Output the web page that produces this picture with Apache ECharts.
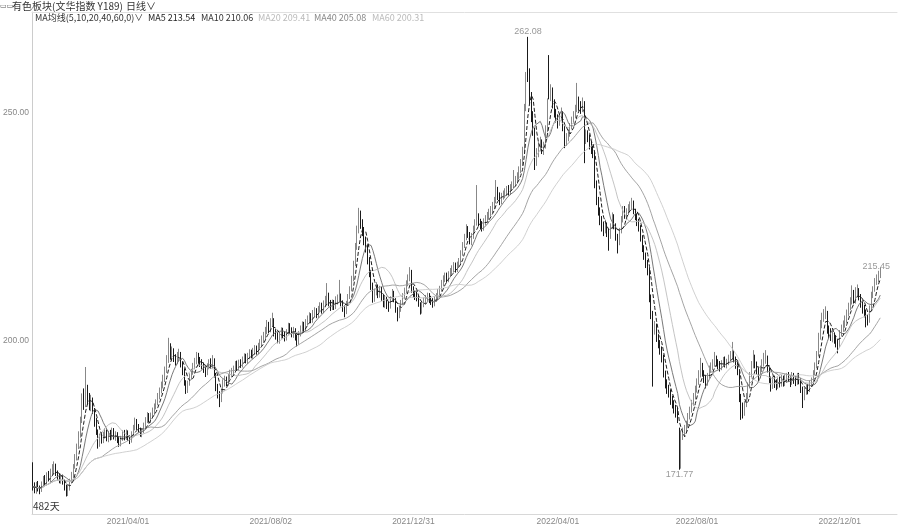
<!DOCTYPE html>
<html><head><meta charset="utf-8">
<script src="https://cdn.jsdelivr.net/npm/echarts@6/dist/echarts.min.js"></script>
<style>html,body{margin:0;padding:0;background:#fff}#c{width:899px;height:526px}</style>
</head><body><div id="c"></div>
<script>
// each row: [open, close, low, high]
const kA = [
[172.5,168.0,167.2,173.4],[168.4,167.3,166.6,169.0],[167.0,168.4,166.5,169.1],[168.6,167.6,167.0,169.3],[167.8,167.3,166.4,168.3],
[167.2,168.6,166.9,169.2],[168.3,169.5,167.9,170.4],[169.8,169.1,168.5,170.6],[169.0,170.4,168.6,171.2],[170.6,169.8,169.2,171.5],
[169.6,171.1,169.0,172.0],[171.3,171.8,170.5,173.0],[171.6,172.1,170.9,173.6],[172.4,171.0,170.4,173.1],[170.8,170.2,169.4,171.6],
[170.4,169.6,168.8,171.0],[169.4,170.0,168.7,170.9],[170.2,169.1,168.5,170.7],[169.0,168.0,167.2,169.6],[168.2,166.9,165.9,168.5],
[166.6,167.8,166.0,168.6],[167.6,169.1,167.2,169.8],[169.3,170.6,168.8,171.3],[170.4,172.4,170.0,173.0],[172.6,174.5,172.0,175.2],
[174.2,176.8,173.8,177.5],[177.0,179.4,176.3,180.2],[179.6,182.0,178.8,183.4],[182.4,187.1,182.0,188.5],[187.5,186.2,184.9,189.6],
[186.0,188.6,185.5,194.3],[188.9,187.1,186.0,190.4],[187.4,186.0,184.8,188.6],[185.8,186.8,184.6,188.2],[187.0,184.9,184.0,187.6],
[184.6,182.0,181.2,185.3],[182.2,180.2,179.4,183.1],[180.0,177.6,176.4,180.6],[177.4,178.9,176.8,179.7],[179.1,178.3,177.5,180.0],
[178.1,179.2,177.6,180.1],[179.4,179.8,178.6,180.9],[180.0,178.6,178.0,180.6],[178.4,179.5,177.8,180.3],[179.7,178.9,178.2,180.5],
[178.7,180.1,178.3,181.0],[180.3,179.0,178.4,180.9],[178.8,179.4,178.1,180.2],[179.6,178.2,177.6,180.0],[178.0,177.6,176.8,178.9],
[177.4,178.5,176.9,179.2],[178.7,179.6,178.1,180.4],[179.8,178.9,178.2,180.5],[178.7,179.8,178.3,180.6],[180.0,178.8,178.1,180.4],
[178.6,178.3,177.4,179.3],[178.1,179.6,177.7,180.2],[179.8,180.8,179.2,181.6],[181.0,182.0,180.4,183.2],[182.2,181.2,180.5,182.9],
[181.0,180.5,179.8,181.8],[180.3,179.8,179.0,181.0],[179.6,180.0,178.9,180.8],[180.2,181.4,179.8,182.1],[181.6,182.5,181.0,183.3],
[182.7,183.3,182.0,184.4],[183.5,182.8,182.1,184.2],[182.6,183.6,182.0,184.3],[183.8,184.2,183.0,185.4],[184.4,185.5,183.8,186.3],
[185.7,186.4,185.0,187.2],[186.6,187.7,185.9,188.6],[187.9,188.9,187.2,189.8],[189.1,190.2,188.5,191.1],[190.4,191.4,189.6,192.6],
[191.6,193.5,191.0,194.4],[193.7,195.8,193.0,196.9],[196.0,198.0,195.2,200.7],[198.2,196.8,195.9,199.5],[196.6,197.4,195.6,198.8],
[197.6,196.2,195.4,198.4],[196.0,195.8,194.6,197.1],[195.6,196.5,194.9,197.6],[196.7,196.9,195.5,198.3],[197.1,195.1,194.2,197.6],
[194.9,193.6,192.5,195.5],[193.4,191.0,190.2,194.0],[190.8,189.3,188.4,191.4],[189.1,190.6,188.6,191.3],[190.8,192.1,190.2,192.9],
[192.3,193.0,191.5,193.9],[193.2,194.3,192.6,195.2],[194.5,195.4,193.8,196.3],[195.6,196.5,194.9,197.6],[196.7,195.8,195.0,197.4],
[195.6,195.2,194.3,196.5],[195.0,194.6,193.8,196.0],[194.4,193.8,193.0,195.3],[193.6,193.2,192.1,194.5],[193.0,194.3,192.5,195.1]
];
const kB = [
[194.5,195.0,193.8,196.0],[195.2,194.8,193.9,196.2],[194.6,195.8,194.0,196.9],[195.6,192.6,192.0,196.2],[192.4,189.9,189.0,193.0],
[189.7,188.4,187.4,190.6],[188.2,187.1,185.5,189.0],[187.3,188.9,186.6,189.6],[189.1,190.8,188.5,191.6],[191.0,191.3,190.0,192.4],
[191.5,190.9,190.1,192.2],[190.7,192.1,190.2,192.8],[192.3,192.8,191.6,193.7],[193.0,193.2,192.1,194.1],[193.4,193.6,192.6,194.6],
[193.8,194.8,193.1,195.6],[195.0,194.3,193.5,195.7],[194.1,195.1,193.6,195.9],[195.3,194.9,194.1,196.0],[194.7,195.8,194.2,196.6],
[196.0,196.4,195.2,197.3],[196.6,195.9,195.1,197.2],[195.7,196.5,195.0,197.4],[196.7,197.3,196.0,198.2],[197.5,196.9,196.2,198.1],
[196.7,197.6,196.1,198.5],[197.8,198.2,197.0,199.1],[198.4,197.8,197.0,199.0],[197.6,198.7,197.1,199.6],[198.9,199.5,198.2,200.4],
[199.7,200.2,198.9,201.2],[200.4,200.9,199.6,202.0],[201.1,202.0,200.4,203.1],[202.2,203.1,201.5,204.6],[203.3,202.5,201.7,204.2],
[202.3,203.8,201.9,205.0],[204.0,204.6,203.1,206.2],[204.4,201.8,201.0,205.0],[201.6,201.2,200.3,202.6],[201.0,200.5,199.5,201.9],
[200.3,200.9,199.4,201.8],[201.1,202.1,200.5,203.0],[202.3,201.4,200.6,202.9],[201.2,200.9,199.9,202.1],[200.7,201.8,200.1,202.6],
[202.0,203.0,201.4,204.0],[203.2,202.4,201.6,203.9],[202.2,201.6,200.8,203.0],[201.4,202.2,200.7,203.1],[202.4,200.9,200.1,202.8],
[200.7,200.0,198.8,201.4],[199.8,201.5,199.2,202.2],[201.7,202.6,201.0,203.4],[202.8,203.4,202.0,204.3],[203.6,202.8,202.0,204.2],
[202.6,204.0,202.1,204.8],[204.2,204.6,203.4,205.6],[204.8,205.3,204.0,206.3],[205.5,204.7,203.9,206.1],[204.5,205.9,204.0,206.8],
[206.1,206.4,205.3,207.4],[206.6,205.8,205.0,207.2],[205.6,206.9,205.1,207.7],[207.1,207.5,206.3,208.5],[207.7,206.8,206.0,208.4],
[206.6,208.0,206.1,208.9],[208.2,208.8,207.4,209.9],[209.0,209.6,208.1,212.7],[209.8,208.4,207.6,210.6],[208.2,207.5,206.6,209.0],
[207.3,208.2,206.8,209.1],[208.4,207.6,206.8,209.0],[207.4,208.9,207.0,209.8],[208.7,209.1,208.0,210.2],[209.3,209.6,208.4,213.4],
[209.8,208.3,207.6,210.4],[208.1,207.2,206.4,208.9],[207.0,206.1,205.2,207.8],[206.3,208.0,205.9,208.8],[208.2,209.5,207.7,210.3],
[209.7,211.2,209.2,212.0],[211.4,213.4,210.9,214.3],[213.6,216.8,213.1,217.6],[217.0,220.5,216.4,221.5],[220.7,224.0,220.0,225.3],
[224.3,227.2,223.6,229.2],[227.4,225.6,224.6,228.6],[225.4,224.3,223.0,226.7],[224.1,222.0,221.0,225.0],[221.8,220.6,219.4,222.9],
[220.4,217.8,216.8,221.2],[217.6,215.0,214.0,218.4],[214.8,212.3,211.2,215.6],[212.1,209.5,208.4,212.8],[209.3,210.6,208.6,211.5],
[210.8,211.8,210.0,212.9],[212.0,210.2,209.4,212.4],[210.0,211.2,209.5,212.1],[211.4,209.6,208.8,211.9],[209.4,208.3,207.4,210.2]
];
const kC = [
[208.1,208.9,207.3,209.8],[209.1,207.8,207.0,209.7],[207.6,207.5,206.4,208.7],[207.7,209.0,207.1,209.8],[209.2,210.5,208.6,211.4],
[210.7,209.2,208.5,211.0],[209.0,207.0,206.2,209.4],[206.8,205.3,204.3,207.4],[205.5,206.8,205.0,207.6],[207.0,208.2,206.4,209.0],
[208.4,209.6,207.9,210.5],[209.8,210.8,209.2,211.7],[211.0,212.4,210.5,213.3],[212.6,213.6,212.0,214.6],[213.8,214.9,213.1,216.2],
[215.1,211.2,210.6,215.6],[211.0,210.6,209.6,212.0],[210.4,209.8,209.0,211.1],[210.0,209.6,208.7,210.8],[209.4,208.2,207.5,210.0],
[208.0,206.8,205.8,208.5],[206.6,207.9,206.0,208.7],[208.1,208.6,207.4,209.5],[208.8,209.2,208.0,210.1],[209.4,209.6,208.6,210.6],
[209.8,209.0,208.3,210.5],[209.2,208.7,207.9,209.9],[208.5,208.3,207.3,209.4],[208.1,209.1,207.6,209.8],[209.3,209.6,208.6,210.5],
[209.8,210.5,209.1,211.4],[210.7,211.2,210.0,212.1],[211.4,212.6,210.9,213.4],[212.8,213.4,212.0,214.4],[213.6,214.0,212.9,215.0],
[214.2,213.6,212.8,215.0],[213.4,214.5,212.9,215.3],[214.7,215.1,214.0,216.0],[215.3,215.6,214.5,216.6],[215.8,216.4,215.0,217.3],
[216.6,215.8,215.0,217.2],[215.6,216.6,215.1,217.4],[216.8,217.1,216.0,218.2],[217.3,219.0,216.8,219.9],[219.2,220.8,218.7,221.7],
[221.0,222.6,220.4,223.5],[222.8,224.3,222.1,225.6],[224.5,223.5,222.6,225.2],[223.3,222.1,221.2,223.9],[221.9,222.8,221.0,223.7],
[223.0,224.5,222.4,225.3],[224.7,225.8,224.0,226.7],[226.0,227.2,225.3,234.2],[227.4,226.1,225.2,228.0],[225.9,225.4,224.5,226.8],
[225.6,225.0,224.0,226.3],[224.8,226.0,224.2,226.9],[226.2,226.6,225.4,227.6],[226.8,227.2,226.0,228.3],[227.4,228.0,226.6,229.0],
[228.2,228.6,227.4,229.6],[228.8,229.4,228.0,230.5],[229.6,230.5,228.9,231.6],[230.7,233.0,230.2,235.3],[233.2,231.8,230.9,233.8],
[231.6,230.9,229.8,232.6],[230.7,231.6,230.0,232.5],[231.8,232.0,231.0,233.0],[232.2,232.5,231.3,233.5],[232.7,233.1,231.9,234.0],
[233.3,232.8,231.9,234.2],[232.6,233.5,232.0,234.4],[233.7,234.0,232.9,235.0],[234.2,234.6,233.4,237.5],[234.8,235.1,234.0,236.2],
[235.3,236.0,234.5,237.0],[236.2,237.2,235.5,238.3],[237.4,238.8,236.8,239.9],[239.0,241.2,238.4,242.6],[241.6,250.7,241.0,252.0],
[251.2,257.0,250.4,259.0],[262.08,259.0,256.8,266.7],[258.6,253.5,252.0,259.8],[253.2,249.2,248.0,254.6],[249.0,246.3,245.0,250.4],
[246.0,239.0,237.5,246.8],[239.4,241.0,238.4,242.3],[241.2,242.5,240.3,243.6],[242.7,243.4,241.6,244.8],[243.6,242.0,241.0,244.2],
[241.8,242.5,240.8,243.7],[242.8,246.0,242.2,247.3],[246.4,252.0,245.8,253.2],[261.3,254.0,253.0,262.7],[253.8,255.0,252.6,256.3],
[254.8,252.2,251.0,255.6],[252.0,250.0,249.0,253.0],[249.8,249.0,247.9,250.9],[248.8,247.8,246.6,249.7],[248.0,248.9,247.2,249.8]
];
const kD = [
[249.1,250.0,248.3,251.2],[249.8,247.0,246.0,250.4],[246.8,243.4,242.3,247.2],[243.6,244.5,242.8,245.6],[244.7,245.2,243.8,246.4],
[245.4,246.9,244.8,247.8],[247.1,248.2,246.4,249.2],[248.4,249.5,247.7,250.4],[249.7,250.8,248.9,251.8],[251.0,252.2,250.2,256.6],
[252.4,251.5,250.5,253.6],[251.3,250.8,249.8,252.6],[251.0,252.2,250.2,253.4],[252.0,244.0,239.0,252.6],[244.2,245.2,243.2,246.4],
[245.0,244.7,243.6,246.2],[244.5,243.0,242.0,245.3],[242.8,242.2,241.0,243.9],[242.0,241.2,240.1,243.0],[241.0,234.6,233.5,241.5],
[234.4,231.0,229.8,235.2],[230.8,228.7,227.5,231.6],[228.5,226.5,225.4,229.3],[226.3,225.2,224.0,227.4],[225.0,224.3,223.0,226.2],
[224.5,225.6,223.6,226.6],[225.4,223.9,222.8,226.0],[223.7,222.8,219.8,224.6],[223.0,225.0,222.4,225.8],[225.2,227.2,224.6,228.2],
[227.0,225.4,224.5,227.8],[225.2,223.0,222.0,225.8],[222.8,221.5,219.2,223.5],[221.7,224.0,221.0,224.8],[224.2,226.5,223.6,227.4],
[226.7,228.7,226.0,229.6],[228.9,227.6,226.8,229.6],[227.4,228.2,226.6,229.1],[228.4,229.0,227.6,230.0],[229.2,229.4,228.3,230.6],
[229.6,230.0,228.7,231.4],[230.2,228.7,227.8,230.8],[228.5,227.4,226.5,229.0],[227.2,226.3,225.2,228.0],[226.1,225.0,224.0,226.8],
[224.8,222.8,221.8,225.4],[222.6,220.6,219.5,223.2],[220.4,218.9,217.8,221.0],[218.7,217.2,216.0,219.4],[217.0,215.6,214.4,217.8],
[215.4,209.6,208.5,216.0],[209.4,206.0,204.8,210.2],[205.8,202.4,190.0,206.6],[202.6,203.2,201.4,204.4],[203.0,200.9,199.8,203.8],
[200.7,199.6,198.4,201.5],[199.4,198.2,197.0,200.2],[198.0,196.5,195.3,198.8],[196.3,193.0,192.0,197.0],[192.8,190.8,189.6,193.5],
[190.6,189.5,188.4,191.6],[189.3,188.8,187.6,190.4],[188.6,187.1,186.0,189.4],[186.9,186.4,185.2,188.0],[186.2,185.2,184.1,187.0],
[185.0,184.6,183.2,186.0],[184.4,183.3,182.0,185.3],[179.5,171.77,171.77,181.0],[172.5,179.6,172.0,180.4],[179.4,179.8,178.3,181.0],
[180.0,180.5,179.0,181.6],[180.7,181.4,179.8,182.5],[181.6,183.3,181.0,184.2],[183.5,184.8,182.8,185.6],[185.0,186.2,184.3,187.1],
[186.4,187.7,185.8,188.6],[187.9,189.2,187.2,190.2],[189.4,190.8,188.7,191.8],[191.0,192.6,190.4,193.6],[192.8,194.3,192.0,196.3],
[194.5,193.0,192.2,195.2],[192.8,191.8,190.8,193.6],[191.6,190.8,189.6,192.4],[191.0,192.2,190.2,193.0],[192.4,193.6,191.8,194.6],
[193.8,194.2,193.0,195.3],[194.4,195.0,193.6,196.0],[195.2,195.8,194.4,197.6],[196.0,195.2,194.4,196.8],[195.0,194.8,193.8,196.0],
[194.6,194.3,193.3,195.6],[194.5,194.9,193.6,195.8],[195.1,195.6,194.3,196.5],[195.8,195.0,194.2,196.6],[194.8,195.2,194.0,196.1],
[195.4,196.0,194.7,197.0],[196.2,196.8,195.5,197.8],[197.0,197.4,196.0,199.8],[197.2,196.2,195.3,198.0],[196.0,194.8,193.9,196.6]
];
const kE = [
[194.6,193.6,192.5,195.4],[193.4,187.7,186.6,193.8],[187.5,185.8,182.7,188.4],[185.6,184.2,183.0,186.5],[184.4,186.0,183.6,186.8],
[186.2,187.7,185.5,188.6],[187.9,190.0,187.2,190.9],[190.2,192.1,189.6,193.2],[192.3,194.6,191.8,195.6],[194.8,196.5,194.0,198.0],
[196.3,195.0,194.0,197.0],[194.8,193.6,192.6,195.5],[193.4,192.1,191.0,194.2],[192.3,193.8,191.8,194.6],[194.0,195.0,193.2,196.0],
[195.2,195.8,194.4,197.4],[196.0,196.5,195.0,198.0],[196.3,194.0,193.1,196.8],[193.8,191.8,190.8,194.4],[191.6,189.9,188.9,192.2],
[190.1,191.4,189.5,192.2],[191.6,190.6,189.7,192.4],[190.8,190.2,189.2,191.6],[190.4,191.0,189.5,192.0],[191.2,190.8,189.8,192.1],
[190.6,191.6,190.0,192.6],[191.8,190.9,190.0,192.4],[190.7,191.8,190.1,192.7],[191.6,192.1,190.8,193.0],[192.3,192.0,191.0,193.2],
[191.8,190.8,189.9,192.4],[191.0,192.3,190.4,193.2],[192.5,191.4,190.6,193.0],[191.6,191.2,190.1,192.3],[191.0,192.1,190.4,193.0],
[192.3,191.5,190.5,193.0],[191.3,189.6,188.6,191.8],[189.4,187.7,185.3,190.0],[187.9,189.0,187.0,189.8],[189.2,189.5,188.2,190.4],
[189.7,189.3,188.3,190.6],[189.5,190.6,188.8,191.4],[190.8,191.0,189.9,192.0],[191.2,192.8,190.6,193.6],[193.0,194.5,192.4,195.3],
[194.7,197.0,194.0,197.8],[197.2,200.8,196.6,201.8],[201.0,203.4,200.3,204.6],[203.6,205.0,202.8,206.2],[205.2,205.8,204.2,207.0],
[206.0,206.3,204.8,207.6],[206.1,202.6,201.6,206.6],[202.4,201.8,200.6,203.4],[202.0,201.2,200.0,202.8],[200.8,201.2,199.7,202.2],
[201.0,200.6,199.4,201.9],[200.4,199.8,198.6,201.2],[199.6,198.9,197.3,200.4],[199.1,201.6,198.6,202.4],[201.8,202.6,201.0,203.6],
[202.8,203.5,202.0,204.5],[203.7,204.6,202.9,205.6],[204.8,205.8,204.0,206.9],[206.0,207.5,205.4,208.4],[207.7,208.6,206.8,209.6],
[208.8,209.9,208.0,212.2],[210.1,209.0,208.2,211.2],[208.8,210.4,208.2,211.8],[210.6,211.2,209.6,212.4],[211.0,209.8,208.9,211.6],
[209.6,208.3,207.3,210.3],[208.1,207.1,206.0,208.9],[206.9,206.5,205.2,207.9],[206.3,205.0,203.0,206.9],[204.8,204.4,203.4,205.8],
[204.6,207.0,204.0,207.8],[207.2,209.95,206.6,210.8],[210.1,211.2,209.4,212.0],[211.4,213.0,210.8,213.8],[213.2,213.6,212.3,214.6],
[213.8,214.5,212.9,215.4],[214.6,215.45,213.8,216.2]
];

const totalDays = 491;            // 482 traded days + blank space on the right
const xTickDays = [54, 135, 216, 298, 377, 458];
const xTickLabels = ['2021/04/01', '2021/08/02', '2021/12/31', '2022/04/01', '2022/08/01', '2022/12/01'];
const yTickValues = [200, 250];
const maPeriods = [5, 10, 20, 40, 60];
const maLegend = ['MA5 213.54', 'MA10 210.06', 'MA20 209.41', 'MA40 205.08', 'MA60 200.31'];
const highMarkIdx = 281;
const lowMarkIdx = 367;

const kData = kA.concat(kB, kC, kD, kE);
const closes = kData.map(d => d[1]);
const categories = Array.from({length: totalDays}, (_, i) => String(i));
const lastIdx = kData.length - 1;

function ma(n) {
  return closes.map((_, i) => {
    const s = Math.max(0, i - n + 1);
    let sum = 0;
    for (let j = s; j <= i; j++) sum += closes[j];
    return +(sum / (i - s + 1)).toFixed(2);
  });
}

const maStyles = [
  {color: '#1e1e1e', width: 1, type: [4, 2]},
  {color: '#6a6a6a', width: 0.9, type: 'solid'},
  {color: '#bdbdbd', width: 0.9, type: 'solid'},
  {color: '#9a9a9a', width: 0.9, type: 'solid'},
  {color: '#cbcbcb', width: 0.9, type: 'solid'}
];
const legendColors = ['#222', '#333', '#bbb', '#888', '#bbb'];
const legendX = [148, 201, 258, 314, 372];

const cjk = '"Noto Sans CJK SC", "Noto Sans", sans-serif';
const graphicEls = [
  {type: 'text', x: 0, y: 6, style: {text: '▭▭', fill: '#555', font: '7px "DejaVu Sans"', verticalAlign: 'middle'}},
  {type: 'text', x: 12, y: 6, style: {text: '有色板块(文华指数 Y189)', fill: '#333', font: '10px ' + cjk, verticalAlign: 'middle'}},
  {type: 'text', x: 126, y: 6, style: {text: '日线∨', fill: '#333', font: '10px ' + cjk, verticalAlign: 'middle'}},
  {type: 'text', x: 35, y: 18, style: {text: 'MA均线(5,10,20,40,60,0)∨', fill: '#333', font: '9px ' + cjk, verticalAlign: 'middle'}},
  {type: 'text', x: 33, y: 506, style: {text: kData.length + '天', fill: '#333', font: '10px ' + cjk, verticalAlign: 'middle'}}
];
maLegend.forEach((t, i) => {
  graphicEls.push({type: 'text', x: legendX[i], y: 18, style: {text: t, fill: legendColors[i], font: '9px ' + cjk, verticalAlign: 'middle'}});
});

const markLabel = {color: '#999', fontSize: 9, fontFamily: 'Liberation Sans'};

const series = [{
  type: 'candlestick',
  data: kData,
  barWidth: '70%',
  large: false,
  itemStyle: {color: '#ffffff', color0: '#1a1a1a', borderColor: '#888888', borderColor0: '#1a1a1a', borderWidth: 1},
  markPoint: {
    symbol: 'circle', symbolSize: 0, silent: true, animation: false,
    label: markLabel,
    data: [
      {coord: [String(highMarkIdx), kData[highMarkIdx][3]], label: {position: 'top', distance: 1, formatter: kData[highMarkIdx][0].toFixed(2)}},
      {coord: [String(lowMarkIdx), kData[lowMarkIdx][2]], label: {position: 'bottom', distance: 0, formatter: kData[lowMarkIdx][1].toFixed(2)}},
      {coord: [String(lastIdx), closes[lastIdx]], label: {position: 'top', distance: 0, offset: [-4, 0], formatter: closes[lastIdx].toFixed(2)}}
    ]
  }
}];
maPeriods.forEach((n, i) => {
  series.push({type: 'line', name: 'MA' + n, data: ma(n), symbol: 'none', showSymbol: false, smooth: false,
    lineStyle: maStyles[i], z: 3 + (i === 0 ? 1 : 0), silent: true});
});

const chart = echarts.init(document.getElementById('c'), null, {renderer: 'canvas'});
chart.setOption({
  animation: false,
  backgroundColor: '#ffffff',
  grid: {left: 32, right: 2, top: 12, bottom: 12, containLabel: false, outerBoundsMode: 'none'},
  xAxis: [{
    type: 'category', data: categories, boundaryGap: true,
    axisLine: {show: true, lineStyle: {color: '#d8d8d8', width: 1}},
    axisTick: {show: false},
    splitLine: {show: false},
    axisLabel: {
      interval: (i) => xTickDays.includes(i),
      formatter: (v, i) => xTickLabels[xTickDays.indexOf(i)] || '',
      color: '#888', fontSize: 8.5, fontFamily: 'Liberation Sans', margin: 3
    }
  }, {
    type: 'category', data: categories, position: 'top', boundaryGap: true,
    axisLine: {show: true, lineStyle: {color: '#e0e0e0', width: 1}},
    axisTick: {show: false}, axisLabel: {show: false}, splitLine: {show: false}
  }],
  yAxis: {
    type: 'value', min: 162.06, max: 272.15, scale: true,
    axisLine: {show: true, lineStyle: {color: '#cccccc', width: 1}},
    axisTick: {show: false},
    splitLine: {show: false},
    axisLabel: {customValues: yTickValues, formatter: v => v.toFixed(2), color: '#888', fontSize: 8.5, fontFamily: 'Liberation Sans', margin: 3}
  },
  graphic: {elements: graphicEls},
  series: series
});
</script>
</body></html>
